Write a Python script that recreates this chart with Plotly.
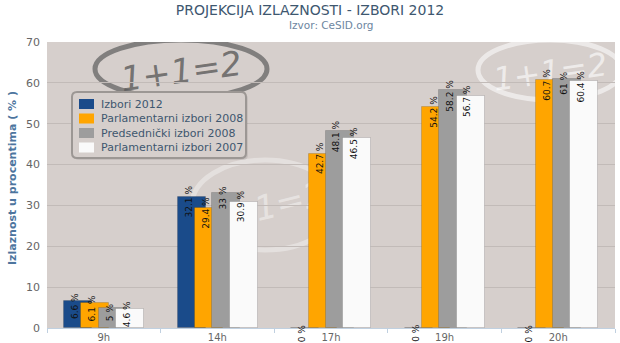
import plotly.graph_objects as go

# ---- data -------------------------------------------------------------
categories = ["9h", "14h", "17h", "19h", "20h"]
series_names = [
    "Izbori 2012",
    "Parlamentarni izbori 2008",
    "Predsednički izbori 2008",
    "Parlamentarni izbori 2007",
]
izbori_2012 = [6.6, 32.1, 0, 0, 0]
parlamentarni_2008 = [6.1, 29.4, 42.7, 54.2, 60.7]
predsednicki_2008 = [5, 33, 48.1, 58.2, 61]
parlamentarni_2007 = [4.6, 30.9, 46.5, 56.7, 60.4]
y_ticks = [0, 10, 20, 30, 40, 50, 60, 70]

series_values = [izbori_2012, parlamentarni_2008, predsednicki_2008, parlamentarni_2007]
colors = ["#1a4b8a", "#ffa500", "#9d9d9d", "#fafafa"]

# ---- geometry ---------------------------------------------------------
W, H = 620, 343
ML, MR, MT, MB = 47, 5, 42, 15
PW, PH = W - ML - MR, H - MT - MB
PLOT_BG = "#d6cfcc"

BAR_W = 0.2465      # each bar, in category units
STEP = 0.1523       # bars overlap: next bar starts before previous ends
FIRST = -0.35


def px(x):
    return (x - ML) / PW


def py(y):
    return (H - MB - y) / PH


fig = go.Figure()

for k, (name, vals, col) in enumerate(zip(series_names, series_values, colors)):
    fig.add_trace(go.Bar(
        x=categories, y=vals, name=name,
        offset=FIRST + k * STEP, width=BAR_W,
        marker=dict(color=col, line=dict(color="rgba(0,0,0,0.14)", width=1)),
        showlegend=False,
        hoverinfo="skip",
    ))

# value labels, rotated, straddling the top of each bar
annotations = []
for k, vals in enumerate(series_values):
    for i, v in enumerate(vals):
        annotations.append(dict(
            x=i + FIRST + k * STEP + BAR_W / 2, y=v, xref="x", yref="y",
            text=f"{v:g} %", textangle=-90, showarrow=False,
            xanchor="center", yanchor="middle", xshift=-3, yshift=-5,
            font=dict(family="DejaVu Sans", size=9, color="#111"),
        ))

# y-axis title
annotations.append(dict(
    x=px(12), y=py(178), xref="paper", yref="paper",
    text="<b>Izlaznost u procentima ( % )</b>", textangle=-90, showarrow=False,
    xanchor="center", yanchor="middle",
    font=dict(family="DejaVu Sans", size=11, color="#4d759e"),
))

# subtitle
annotations.append(dict(
    x=0.5, y=py(25), xref="paper", yref="paper",
    text="Izvor: CeSID.org", showarrow=False,
    xanchor="center", yanchor="middle",
    font=dict(family="DejaVu Sans", size=10.5, color="#6d869f"),
))

# ---- legend box -------------------------------------------------------
shapes = []


def rounded_rect(x0, y0, x1, y1, r):
    pts = [
        ("M", x0 + r, y0), ("L", x1 - r, y0), ("Q", x1, y0, x1, y0 + r),
        ("L", x1, y1 - r), ("Q", x1, y1, x1 - r, y1), ("L", x0 + r, y1),
        ("Q", x0, y1, x0, y1 - r), ("L", x0, y0 + r), ("Q", x0, y0, x0 + r, y0),
    ]
    out = []
    for p in pts:
        cmd, coords = p[0], p[1:]
        conv = []
        for j in range(0, len(coords), 2):
            conv.append(f"{px(coords[j]):.5f},{py(coords[j + 1]):.5f}")
        out.append(cmd + " ".join(conv))
    return " ".join(out) + " Z"


LX0, LY0, LX1, LY1 = 72, 92, 246, 158
shapes.append(dict(type="path", xref="paper", yref="paper",
                   path=rounded_rect(LX0 + 2, LY0 + 2, LX1 + 2, LY1 + 2, 5),
                   fillcolor="rgba(0,0,0,0.08)", line=dict(width=0), layer="above"))
shapes.append(dict(type="path", xref="paper", yref="paper",
                   path=rounded_rect(LX0, LY0, LX1, LY1, 5),
                   fillcolor=PLOT_BG, line=dict(color="#9c9794", width=2), layer="above"))

row_y = [104, 118.5, 133, 147.5]
for name, col, ry in zip(series_names, colors, row_y):
    shapes.append(dict(type="rect", xref="paper", yref="paper",
                       x0=px(79), x1=px(94), y0=py(ry - 5), y1=py(ry + 5),
                       fillcolor=col, line=dict(width=0), layer="above"))
    annotations.append(dict(
        x=px(99), y=py(ry), xref="paper", yref="paper", text=name,
        showarrow=False, xanchor="left", yanchor="middle",
        font=dict(family="DejaVu Sans", size=11, color="#3e576f"),
    ))


# ---- "1+1=2" background marks ------------------------------------------
def cx(p):
    return (p - ML) / (PW / 5) - 0.5


def cy(p):
    return (H - MB - p) / (PH / 70)


logos = [
    # x0, x1, y0, y1 (pixels), line colour, text colour, font size, tilt
    (95, 267, 40, 98, "rgba(100,100,100,0.75)", "rgba(90,90,90,0.8)", 34, -8),
    (478, 622, 40, 100, "rgba(255,255,255,0.55)", "rgba(255,255,255,0.6)", 32, -8),
    (192, 338, 160, 250, "rgba(255,255,255,0.35)", "rgba(255,255,255,0.42)", 34, -14),
]
for x0, x1, y0, y1, lc, tc, fs, ang in logos:
    shapes.append(dict(
        type="circle", xref="x", yref="y",
        x0=cx(x0), x1=cx(x1), y0=cy(y1), y1=cy(y0),
        line=dict(color=lc, width=5), fillcolor="rgba(0,0,0,0)", layer="below",
        label=dict(text="1+1=2", textangle=ang,
                   font=dict(family="DejaVu Sans", size=fs, color=tc, style="italic")),
    ))

fig.update_layout(
    width=W, height=H,
    margin=dict(l=ML, r=MR, t=MT, b=MB, pad=0, autoexpand=False),
    paper_bgcolor="white", plot_bgcolor=PLOT_BG,
    barmode="overlay", bargap=0,
    title=dict(text="PROJEKCIJA IZLAZNOSTI - IZBORI 2012", x=0.5, xanchor="center",
               xref="container", y=1 - 10.5 / H, yanchor="middle", yref="container",
               font=dict(family="DejaVu Sans", size=14, color="#3e576f")),
    xaxis=dict(type="category", categoryorder="array", categoryarray=categories,
               range=[-0.5, 4.5], showline=True, linecolor="#c0d0e0", linewidth=1,
               ticks="outside", tickson="boundaries", ticklen=4, tickcolor="#c0d0e0",
               showgrid=False, fixedrange=True, automargin=False,
               tickfont=dict(family="DejaVu Sans", size=10, color="#666")),
    yaxis=dict(range=[0, 70], tickvals=y_ticks, showgrid=True, gridcolor="#c2bbb8",
               gridwidth=1, zeroline=False, showline=False, ticks="",
               ticklabelstandoff=6, automargin=False,
               tickfont=dict(family="DejaVu Sans", size=11, color="#666")),
    annotations=annotations,
    shapes=shapes,
    showlegend=False,
    font=dict(family="DejaVu Sans"),
)

fig.write_html("out.html")
